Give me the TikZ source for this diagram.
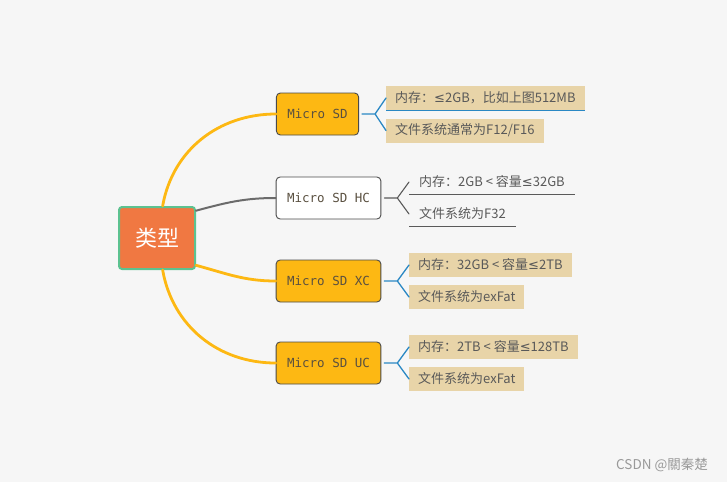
\documentclass[tikz,border=0pt]{standalone}
\usepackage{fontspec}
\setmainfont{Noto Sans CJK SC}
\setmonofont{DejaVu Sans Mono}
\newfontfamily\symfont{DejaVu Sans}
\newcommand{\lesym}{{\symfont ≤}}
\usetikzlibrary{calc}

\definecolor{bggray}{HTML}{F6F6F6}
\definecolor{rootfill}{HTML}{F07842}
\definecolor{rootedge}{HTML}{5CC290}
\definecolor{sdyellow}{HTML}{FDB813}
\definecolor{boxedge}{HTML}{4A4A4A}
\definecolor{boxtext}{HTML}{5A5040}
\definecolor{leaftan}{HTML}{E8D4A8}
\definecolor{leaftext}{HTML}{595959}
\definecolor{forkblue}{HTML}{2A88C4}
\definecolor{forkgray}{HTML}{5A5A5A}

\begin{document}
\begin{tikzpicture}[x=1pt, y=1pt, line cap=round, line join=round,
  rootbox/.style={draw=rootedge, line width=2pt, fill=rootfill, rounded corners=3pt,
    minimum width=76pt, minimum height=62pt, text=white, font=\fontsize{22}{24}\selectfont},
  typebox/.style={draw=boxedge, line width=0.9pt, rounded corners=4pt, fill=sdyellow,
    minimum height=42pt, inner xsep=11pt, text=boxtext, font=\ttfamily\fontsize{12.5}{14}\selectfont},
  leafbox/.style={anchor=west, fill=leaftan, minimum height=24pt, inner xsep=9pt, inner ysep=0pt,
    text=leaftext, font=\fontsize{13}{15}\selectfont},
  leafplain/.style={leafbox, fill=none},
  yellowcurve/.style={draw=sdyellow, line width=2.8pt},
  graycurve/.style={draw=forkgray!90, line width=2pt},
  fork/.style={draw=forkblue, line width=1.3pt},
  forkg/.style={draw=forkgray, line width=1.1pt}]

% -----------------------
% Canvas
% -----------------------
\fill[bggray] (0,0) rectangle (727,-482);
\useasboundingbox (0,0) rectangle (727,-482);

% -----------------------
% Root and the four card types
% -----------------------
\node[rootbox] (root) at (157,-238) {类型};

\node[typebox] (sd) at (317.5,-114) {Micro SD};
\node[typebox, fill=white] (hc) at (328.5,-198) {Micro SD HC};
\node[typebox] (xc) at (328.5,-281) {Micro SD XC};
\node[typebox] (uc) at (328.5,-363) {Micro SD UC};

% Branches from the root
\draw[yellowcurve] (root.80)  to[out=80,in=180]  (sd.west);
\draw[graycurve]   (root.35)  to[out=15,in=180]  (hc.west);
\draw[yellowcurve] (root.-35) to[out=-15,in=180] (xc.west);
\draw[yellowcurve] (root.-80) to[out=-80,in=180] (uc.west);

% -----------------------
% Leaves
% -----------------------
\node[leafbox] (sdA) at (386,-98)    {内存：\lesym 2GB，比如上图512MB};
\node[leafbox] (sdB) at (386,-130.5) {文件系统通常为F12/F16};

\node[leafplain, inner xsep=10pt] (hcA) at (409,-182) {内存：2GB < 容量\lesym 32GB};
\node[leafplain, inner xsep=10pt] (hcB) at (409,-214) {文件系统为F32};

\node[leafbox] (xcA) at (409,-265) {内存：32GB < 容量\lesym 2TB};
\node[leafbox] (xcB) at (409,-297) {文件系统为exFat};

\node[leafbox] (ucA) at (409,-347) {内存：2TB < 容量\lesym 128TB};
\node[leafbox] (ucB) at (409,-379) {文件系统为exFat};

% selected leaf marker
\draw[forkblue, line width=1.2pt, line cap=butt] (sdA.south west) -- (sdA.south east);

% underlines of the plain leaves
\draw[forkg, line cap=butt] (hcA.south west) -- (hcA.south east);
\draw[forkg, line cap=butt] (hcB.south west) -- (hcB.south east);

% -----------------------
% Forks
% -----------------------
\foreach \n in {sd,hc,xc,uc}{
  \coordinate (\n s) at ($(\n.east)+(3,0)$);
  \coordinate (\n j) at ($(\n.east)+(16,0)$);
}
\draw[fork]  (sds) -- (sdj) (sdj) -- (sdA.west) (sdj) -- (sdB.west);
\draw[forkg] (hcs) -- (hcj) (hcj) -- (hcA.west) (hcj) -- (hcB.west);
\draw[fork]  (xcs) -- (xcj) (xcj) -- (xcA.west) (xcj) -- (xcB.west);
\draw[fork]  (ucs) -- (ucj) (ucj) -- (ucA.west) (ucj) -- (ucB.west);

% -----------------------
% Watermark
% -----------------------
\node[text=black!40, font=\fontsize{13.5}{15}\selectfont] (mark) at (662,-465) {CSDN @關秦楚};

\end{tikzpicture}
\end{document}
